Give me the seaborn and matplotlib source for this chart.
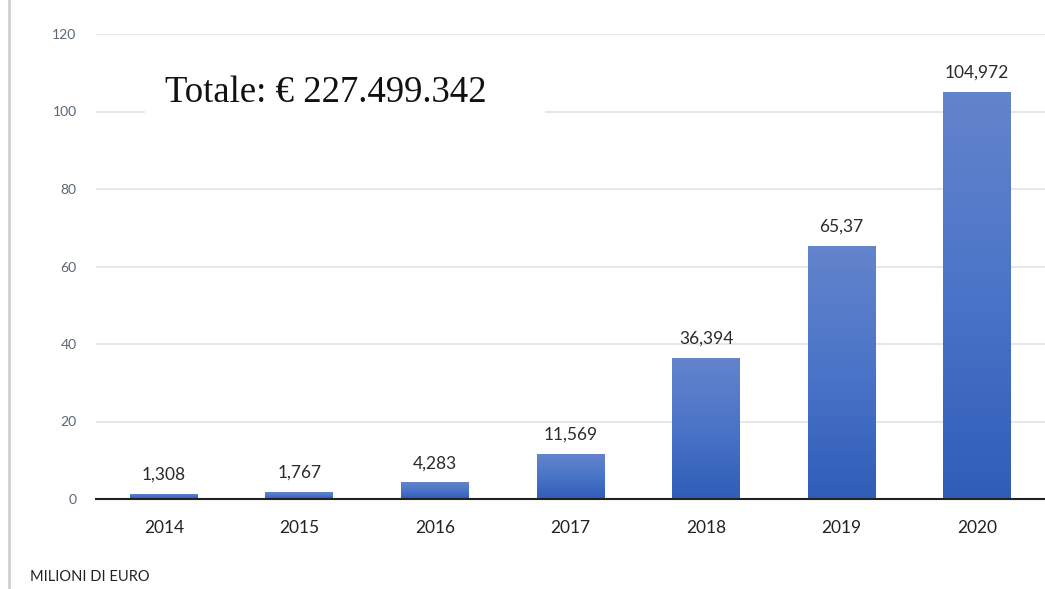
import matplotlib
matplotlib.use("Agg")
import matplotlib.pyplot as plt
import numpy as np
import pandas as pd
import seaborn as sns
from matplotlib.colors import LinearSegmentedColormap
from matplotlib.patches import Rectangle
from matplotlib.lines import Line2D

years = ["2014", "2015", "2016", "2017", "2018", "2019", "2020"]
values = [1.308, 1.767, 4.283, 11.569, 36.394, 65.37, 104.972]
value_labels = ["1,308", "1,767", "4,283", "11,569", "36,394", "65,37", "104,972"]
y_ticks = [0, 20, 40, 60, 80, 100, 120]
total_text = "Totale: € 227.499.342"
unit_text = "MILIONI DI EURO"

sns.set_theme(style="white")
plt.rcParams["font.family"] = ["Lato", "DejaVu Sans"]

df = pd.DataFrame({"year": years, "value": values})

fig = plt.figure(figsize=(10.45, 5.89), dpi=100)
ax = fig.add_axes([96/1045, 1-499/589, 1-96/1045, (499-34)/589])

sns.barplot(data=df, x="year", y="value", ax=ax, width=0.5, color="#4472C4",
            saturation=1, edgecolor="none")

# gradient fill on each bar
cmap = LinearSegmentedColormap.from_list("g", ["#2F5DB8", "#4A74C8", "#6484CC"])
grad = np.linspace(0, 1, 256).reshape(-1, 1)
for p in ax.patches:
    x0, y0 = p.get_x(), p.get_y()
    w, h = p.get_width(), p.get_height()
    im = ax.imshow(grad, cmap=cmap, origin="lower", aspect="auto",
                   extent=[x0, x0 + w, y0, y0 + h], zorder=p.get_zorder() + 0.1)
    im.set_clip_path(p)

ax.set_xlim(-0.5, 6.5)
ax.set_ylim(0, 120)
ax.set_yticks(y_ticks)
ax.set_yticklabels([str(t) for t in y_ticks], color="#5b6675", fontsize=10)
ax.tick_params(axis="y", length=0, pad=14)
ax.tick_params(axis="x", length=0, pad=15, labelsize=12.5, labelcolor="#222222")
ax.set_xlabel("")
ax.set_ylabel("")
ax.yaxis.grid(True, color="#dfe4eb", linewidth=1.2)
ax.set_axisbelow(True)
for s in ["top", "right", "left"]:
    ax.spines[s].set_visible(False)
ax.spines["bottom"].set_color("#222222")
ax.spines["bottom"].set_linewidth(1.5)

for i, (v, lab) in enumerate(zip(values, value_labels)):
    ax.annotate(lab, (i, v), xytext=(0, 8), textcoords="offset points",
                ha="center", va="bottom", fontsize=12.5, color="#2b2b2b")

# white box with total
ax.add_patch(Rectangle((145/1045, 1-114/589), 400/1045, 55/589,
                       transform=fig.transFigure, facecolor="white",
                       edgecolor="none", zorder=5))
fig.text(165/1045, 1-102/589, total_text, fontsize=26.5,
         family=["Liberation Serif", "DejaVu Serif"], color="#111111",
         ha="left", va="baseline", zorder=6)

fig.text(30/1045, 1-577/589, unit_text, fontsize=10.5, color="#222222",
         ha="left", va="center")

# left grey frame edge
fig.add_artist(Line2D([9/1045, 9/1045], [0, 1], transform=fig.transFigure,
                      color="#d0d0d0", linewidth=2))

fig.savefig("out.png", dpi=100)
